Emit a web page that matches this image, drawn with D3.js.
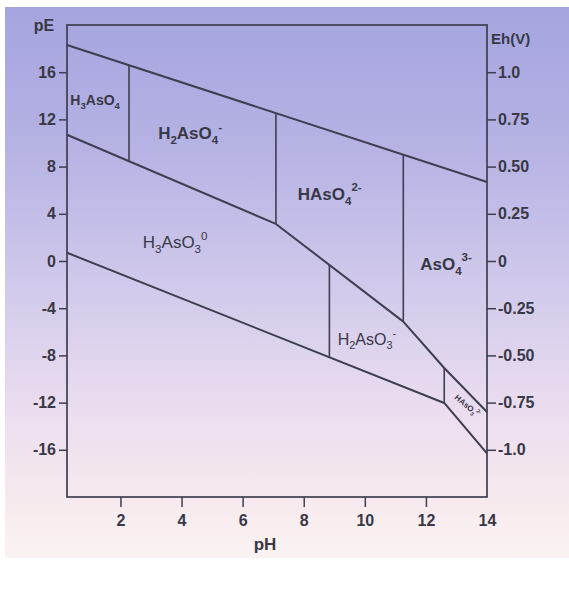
<!DOCTYPE html>
<html>
<head>
<meta charset="utf-8">
<script src="https://cdn.jsdelivr.net/npm/d3@7"></script>
<style>
  body { margin: 0; background: #fff; }
  svg text { font-family: "Liberation Sans", Arial, sans-serif; fill: #383846; }
</style>
</head>
<body>
<div id="chart"></div>
<script>
// tick values
const phTicks = [2, 4, 6, 8, 10, 12, 14];
const peTicks = [16, 12, 8, 4, 0, -4, -8, -12, -16];
const ehTicks = [1.0, 0.75, 0.5, 0.25, 0, -0.25, -0.5, -0.75, -1.0];
const ehLabels = ["1.0", "0.75", "0.50", "0.25", "0", "-0.25", "-0.50", "-0.75", "-1.0"];

// boundary lines, [pH, pE]
const upperWater = [[0.25, 18.3], [14, 6.7]];
const redoxLine = [[0.25, 10.7], [7.09, 3.14], [11.26, -5.14], [12.6, -9.07], [14, -12.8]];
const lowerLine = [[0.25, 0.7], [12.6, -12.03], [14, -16.3]];

// acid/base divides (pH)
const asVDivides = [2.28, 7.09, 11.26];   // between upperWater and redoxLine
const asIIIDivides = [8.84, 12.6];        // between redoxLine and lowerLine

// species names
const speciesParts = [
  [["H"], ["3", "sub"], ["AsO"], ["4", "sub"]],
  [["H"], ["2", "sub"], ["AsO"], ["4", "sub"], ["-", "sup"]],
  [["HAsO"], ["4", "sub"], ["2-", "sup"]],
  [["AsO"], ["4", "sub"], ["3-", "sup"]],
  [["H"], ["3", "sub"], ["AsO"], ["3", "sub"], ["0", "sup"]],
  [["H"], ["2", "sub"], ["AsO"], ["3", "sub"], ["-", "sup"]],
  [["HAsO"], ["3", "sub"], ["2-", "sup"]]
];
const speciesPH = [1.17, 4.28, 8.85, 12.66, 3.79, 10.07, 13.3];
const speciesPE = [13.2, 10.3, 5.17, -0.76, 1.1, -7.1, -12.45];

const width = 569, height = 600;
const svg = d3.select('#chart').append('svg')
  .attr('width', width)
  .attr('height', height);

// scanned paper background
const grad = svg.append('defs').append('linearGradient')
  .attr('id', 'bg')
  .attr('x1', 0).attr('y1', 0).attr('x2', 0).attr('y2', 1);
[[0, '#a5a4de'], [0.25, '#b5b2e4'], [0.5, '#d0c9eb'], [0.72, '#eadcef'], [0.9, '#f7eaee'], [1, '#faf3f2']]
  .forEach(([o, c]) => grad.append('stop').attr('offset', o).attr('stop-color', c));
svg.append('rect')
  .attr('x', 5).attr('y', 7)
  .attr('width', width - 5).attr('height', 551)
  .attr('fill', 'url(#bg)');

const x = d3.scaleLinear().domain([0.25, 14]).range([67, 487]);
const y = d3.scaleLinear().domain([-20, 20]).range([497, 25]);
const yEh = d3.scaleLinear().domain([-1.25, 1.25]).range([497, 25]);

const ink = '#3e3e50';
const hyphen = s => String(s).replace('\u2212', '-');

// frame
svg.append('rect')
  .attr('x', x(0.25)).attr('y', y(20))
  .attr('width', x(14) - x(0.25)).attr('height', y(-20) - y(20))
  .attr('fill', 'none').attr('stroke', ink).attr('stroke-width', 1.7);

// axes
const leftAxis = svg.append('g')
  .attr('transform', `translate(${x(0.25)},0)`)
  .call(d3.axisLeft(y).tickValues(peTicks).tickSize(8).tickPadding(3)
    .tickFormat(d => hyphen(d)));
const rightAxis = svg.append('g')
  .attr('transform', `translate(${x(14)},0)`)
  .call(d3.axisRight(yEh).tickValues(ehTicks).tickSize(9).tickPadding(2)
    .tickFormat((d, i) => ehLabels[i]));
const bottomAxis = svg.append('g')
  .attr('transform', `translate(0,${y(-20)})`)
  .call(d3.axisBottom(x).tickValues(phTicks).tickSize(10).tickPadding(8));

[leftAxis, rightAxis, bottomAxis].forEach(a => {
  a.select('.domain').remove();
  a.selectAll('line').attr('stroke', ink).attr('stroke-width', 1.5);
  a.selectAll('text')
    .style('font-family', '"Liberation Sans", Arial, sans-serif')
    .style('font-size', '16px')
    .style('font-weight', 'bold')
    .attr('fill', '#383846');
});
bottomAxis.selectAll('.tick').filter(d => d === 14).select('line').remove();

// axis titles
svg.append('text')
  .attr('x', 44).attr('y', 31)
  .attr('text-anchor', 'middle')
  .style('font-size', '16px').style('font-weight', 'bold')
  .text('pE');
svg.append('text')
  .attr('x', 491).attr('y', 44)
  .style('font-size', '15px').style('font-weight', 'bold')
  .text('Eh(V)');
svg.append('text')
  .attr('x', 265).attr('y', 550)
  .attr('text-anchor', 'middle')
  .style('font-size', '17px').style('font-weight', 'bold')
  .text('pH');

// boundary lines
const line = d3.line().x(d => x(d[0])).y(d => y(d[1]));
[upperWater, redoxLine, lowerLine].forEach(pts => {
  svg.append('path')
    .attr('d', line(pts))
    .attr('fill', 'none')
    .attr('stroke', ink)
    .attr('stroke-width', 2)
    .attr('stroke-linejoin', 'round');
});

// pE of a boundary at a given pH
function at(pts, ph) {
  for (let i = 1; i < pts.length; i++) {
    if (ph <= pts[i][0]) {
      const t = (ph - pts[i - 1][0]) / (pts[i][0] - pts[i - 1][0]);
      return pts[i - 1][1] + t * (pts[i][1] - pts[i - 1][1]);
    }
  }
  return pts[pts.length - 1][1];
}

const divides = asVDivides.map(p => [p, upperWater, redoxLine])
  .concat(asIIIDivides.map(p => [p, redoxLine, lowerLine]));
svg.selectAll('line.divide')
  .data(divides)
  .enter()
  .append('line')
  .attr('class', 'divide')
  .attr('x1', d => x(d[0])).attr('x2', d => x(d[0]))
  .attr('y1', d => y(at(d[1], d[0])))
  .attr('y2', d => y(at(d[2], d[0])))
  .attr('stroke', ink)
  .attr('stroke-width', 1.6);

// species labels
const labelStyle = [
  {size: 14, weight: 'bold'},
  {size: 17, weight: 'bold'},
  {size: 17, weight: 'bold'},
  {size: 17, weight: 'bold'},
  {size: 17, weight: 'normal'},
  {size: 16, weight: 'normal'},
  {size: 8, weight: 'bold', rotate: 40}
];

speciesParts.forEach((parts, i) => {
  const st = labelStyle[i];
  const g = svg.append('g')
    .attr('transform', `translate(${x(speciesPH[i])},${y(speciesPE[i])}) rotate(${st.rotate || 0})`);
  const t = g.append('text')
    .attr('text-anchor', 'middle')
    .attr('dy', '0.35em')
    .style('font-size', st.size + 'px')
    .style('font-weight', st.weight);
  let shift = 0;
  parts.forEach(([s, k]) => {
    const target = k === 'sub' ? st.size * 0.28 : k === 'sup' ? -st.size * 0.5 : 0;
    t.append('tspan')
      .attr('dy', target - shift)
      .style('font-size', k ? (st.size * 0.68) + 'px' : null)
      .text(s);
    shift = target;
  });
});
</script>
</body>
</html>
